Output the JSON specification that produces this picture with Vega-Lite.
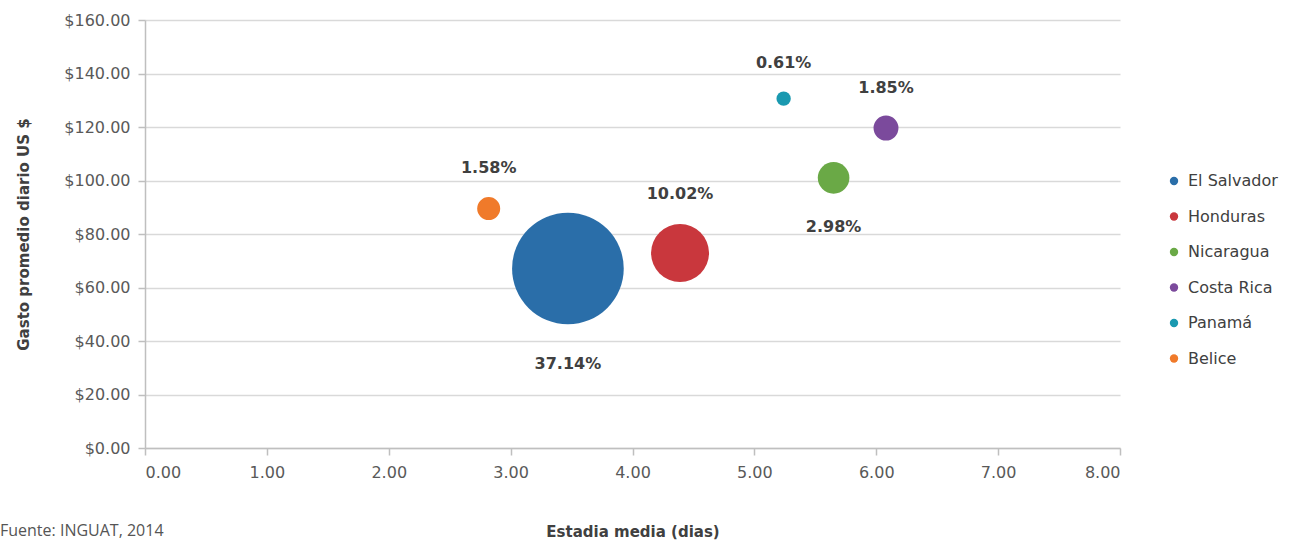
{
  "$schema": "https://vega.github.io/schema/vega-lite/v6.json",
  "width": 975,
  "height": 428,
  "autosize": {"type": "none"},
  "padding": {"left": 145, "top": 20, "right": 176, "bottom": 94},
  "background": "white",
  "title": {
    "text": "Fuente: INGUAT, 2014",
    "orient": "bottom",
    "anchor": "start",
    "frame": "group",
    "dx": -145,
    "offset": -16,
    "font": "Open Sans",
    "fontSize": 16,
    "fontWeight": "normal",
    "color": "#555555"
  },
  "config": {
    "view": {"stroke": null},
    "axis": {
      "labelFont": "DejaVu Sans",
      "labelFontSize": 16,
      "labelColor": "#595959",
      "titleFont": "DejaVu Sans",
      "titleFontSize": 15,
      "titleFontWeight": "bold",
      "titleColor": "#404040",
      "domainColor": "#bfbfbf",
      "domainWidth": 1.5,
      "tickColor": "#bfbfbf",
      "tickWidth": 1.5,
      "tickSize": 7,
      "gridColor": "#d9d9d9",
      "gridWidth": 1.5
    }
  },
  "data": {
    "values": [
      {"pais": "El Salvador", "estadia": 3.47, "gasto": 67.1, "pct": 37.14, "label": "37.14%"},
      {"pais": "Honduras", "estadia": 4.39, "gasto": 72.9, "pct": 10.02, "label": "10.02%"},
      {"pais": "Nicaragua", "estadia": 5.65, "gasto": 101.0, "pct": 2.98, "label": "2.98%"},
      {"pais": "Costa Rica", "estadia": 6.08, "gasto": 119.6, "pct": 1.85, "label": "1.85%"},
      {"pais": "Panamá", "estadia": 5.24, "gasto": 130.6, "pct": 0.61, "label": "0.61%"},
      {"pais": "Belice", "estadia": 2.82, "gasto": 89.5, "pct": 1.58, "label": "1.58%"}
    ]
  },
  "encoding": {
    "x": {
      "field": "estadia",
      "type": "quantitative",
      "scale": {"domain": [0, 8], "nice": false, "zero": true},
      "axis": {
        "title": "Estadia media (dias)",
        "values": [0, 1, 2, 3, 4, 5, 6, 7, 8],
        "format": ".2f",
        "grid": false,
        "labelPadding": 9,
        "titlePadding": 44
      }
    },
    "y": {
      "field": "gasto",
      "type": "quantitative",
      "scale": {"domain": [0, 160], "nice": false},
      "axis": {
        "title": "Gasto promedio diario US $",
        "values": [0, 20, 40, 60, 80, 100, 120, 140, 160],
        "format": "$.2f",
        "grid": true,
        "labelPadding": 8,
        "titlePadding": 32
      }
    }
  },
  "layer": [
    {
      "mark": {"type": "point", "filled": true, "opacity": 1, "strokeWidth": 0},
      "encoding": {
        "size": {
          "field": "pct",
          "type": "quantitative",
          "scale": {"type": "linear", "domain": [0, 37.14], "range": [0, 12469]},
          "legend": null
        },
        "color": {
          "field": "pais",
          "type": "nominal",
          "sort": ["El Salvador", "Honduras", "Nicaragua", "Costa Rica", "Panamá", "Belice"],
          "scale": {
            "domain": ["El Salvador", "Honduras", "Nicaragua", "Costa Rica", "Panamá", "Belice"],
            "range": ["#2a6ea9", "#c9373d", "#6aa946", "#7b4a9c", "#1a99b0", "#f07a2a"]
          },
          "legend": {
            "title": null,
            "orient": "none",
            "legendX": 1021,
            "legendY": 153,
            "symbolType": "circle",
            "symbolSize": 70,
            "symbolStrokeWidth": 0,
            "labelFont": "DejaVu Sans",
            "labelFontSize": 16,
            "labelColor": "#404040",
            "labelOffset": 6,
            "clipHeight": 16,
            "rowPadding": 19.5
          }
        }
      }
    },
    {
      "transform": [{"filter": "datum.pais === 'El Salvador'"}],
      "mark": {"type": "text", "dy": 95, "font": "DejaVu Sans", "fontSize": 16, "fontWeight": "bold", "color": "#404040", "baseline": "middle"},
      "encoding": {"text": {"field": "label"}}
    },
    {
      "transform": [{"filter": "datum.pais === 'Honduras'"}],
      "mark": {"type": "text", "dy": -59, "font": "DejaVu Sans", "fontSize": 16, "fontWeight": "bold", "color": "#404040", "baseline": "middle"},
      "encoding": {"text": {"field": "label"}}
    },
    {
      "transform": [{"filter": "datum.pais === 'Nicaragua'"}],
      "mark": {"type": "text", "dy": 49, "font": "DejaVu Sans", "fontSize": 16, "fontWeight": "bold", "color": "#404040", "baseline": "middle"},
      "encoding": {"text": {"field": "label"}}
    },
    {
      "transform": [{"filter": "datum.pais === 'Costa Rica'"}],
      "mark": {"type": "text", "dy": -40.5, "font": "DejaVu Sans", "fontSize": 16, "fontWeight": "bold", "color": "#404040", "baseline": "middle"},
      "encoding": {"text": {"field": "label"}}
    },
    {
      "transform": [{"filter": "datum.pais === 'Panamá'"}],
      "mark": {"type": "text", "dy": -35.5, "font": "DejaVu Sans", "fontSize": 16, "fontWeight": "bold", "color": "#404040", "baseline": "middle"},
      "encoding": {"text": {"field": "label"}}
    },
    {
      "transform": [{"filter": "datum.pais === 'Belice'"}],
      "mark": {"type": "text", "dy": -40.5, "font": "DejaVu Sans", "fontSize": 16, "fontWeight": "bold", "color": "#404040", "baseline": "middle"},
      "encoding": {"text": {"field": "label"}}
    }
  ]
}
